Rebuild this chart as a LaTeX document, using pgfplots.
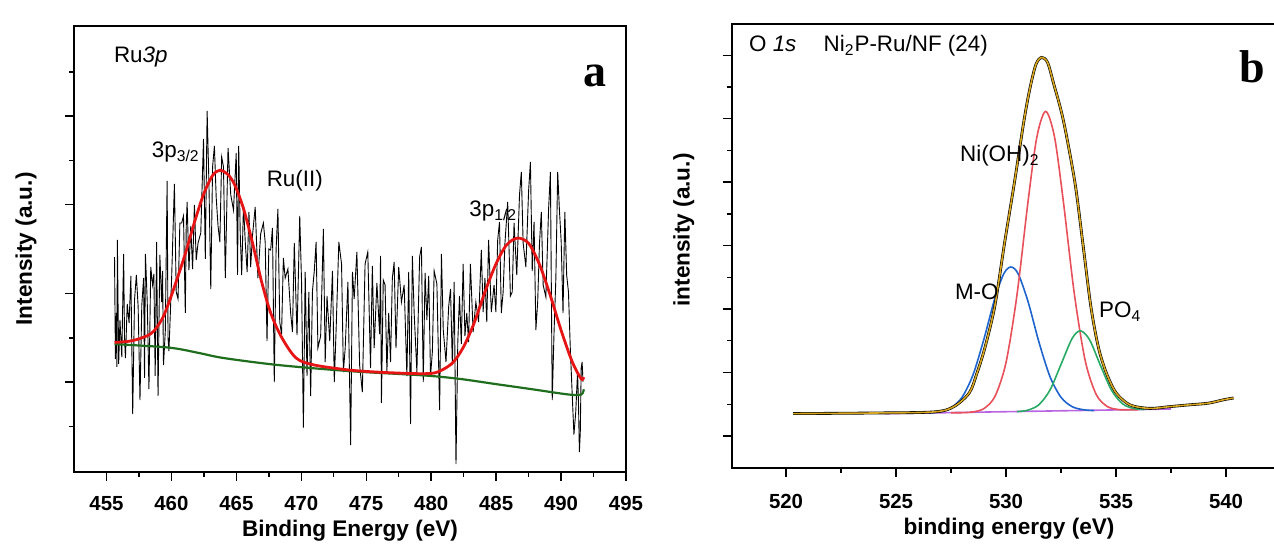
\documentclass[border=0pt]{standalone}
\usepackage{pgfplots}
\pgfplotsset{compat=1.18}
\usepackage{fontspec}
\setmainfont{Liberation Sans}
\newfontfamily\timesfont{Liberation Serif}
\definecolor{fitred}{RGB}{230,20,20}
\definecolor{bgreen}{RGB}{30,110,30}
\definecolor{envgold}{RGB}{215,165,30}
\definecolor{cred}{RGB}{232,80,90}
\definecolor{cblue}{RGB}{30,100,205}
\definecolor{cgreen}{RGB}{40,170,100}
\definecolor{cpurple}{RGB}{185,100,225}
\pgfplotsset{
  common/.style={
    scale only axis, anchor=south west,
    tick align=outside, tick pos=left,
    axis line style={line width=0.8pt},
    every tick/.style={black, line width=0.7pt},
    major tick length=4.5pt, minor tick length=2.3pt,
    /pgf/number format/assume math mode=true,
    tick label style={font=\fontsize{10.2}{12}\selectfont\bfseries},
    label style={font=\fontsize{11.3}{13}\selectfont\bfseries},
    yticklabels={},
    clip=false,
  },
}
\tikzset{ann/.style={anchor=base west, font=\fontsize{11.2}{13}\selectfont}}
\begin{document}
\begin{tikzpicture}
\useasboundingbox (0,0) rectangle (637pt,272.5pt);
% ---------------- panel a ----------------
\begin{axis}[common,
  at={(37pt,36.5pt)}, width=276pt, height=223pt,
  xmin=452.5, xmax=495, ymin=0, ymax=446,
  xtick={455,460,...,495}, minor xtick={457.5,462.5,...,492.5},
  ytick={90,178.7,267.3,356}, minor ytick={45.3,134,222.7,311.3,400},
  xticklabel style={anchor=base, yshift=-15pt},
  xlabel={Binding Energy (eV)},
  xlabel style={at={(axis description cs:0.5,0)}, anchor=base, yshift=-32.5pt},
  ylabel={Intensity (a.u.)},
  ylabel style={at={(axis description cs:-0.0761,0.5)}, anchor=base},
]
\addplot[black, line width=0.45pt] coordinates {
(455.62,214.8)(455.69,113)(455.76,159)(455.80,105)(455.84,232)(455.94,108)(456.04,152)(456.18,115)
(456.32,218)(456.39,134)(456.46,114)(456.60,168)(456.74,149)(456.88,196)(457.02,58)(457.16,172)
(457.30,197)(457.44,165)(457.58,72)(457.72,167)(457.86,194)(457.93,94)(458.00,218)(458.14,170)
(458.27,83)(458.41,205)(458.55,187)(458.65,198)(458.75,96)(458.86,230)(458.97,76)(459.11,217)
(459.25,170)(459.32,201)(459.39,107)(459.53,141)(459.67,291)(459.74,134)(459.81,121)(460.02,195)
(460.23,288)(460.37,180)(460.51,173)(460.65,249)(460.79,249)(460.93,256)(461.07,159)(461.14,245)
(461.21,270)(461.35,202)(461.49,246)(461.63,203)(461.77,267)(461.91,212)(462.05,229)(462.26,239)
(462.47,333)(462.61,213)(462.75,361)(462.89,288)(463.03,183)(463.17,305)(463.31,326)(463.45,274)
(463.59,246)(463.73,230)(463.87,315)(464.01,305)(464.15,194)(464.36,324)(464.57,277)(464.78,262)
(464.99,319)(465.09,197)(465.18,326)(465.30,238)(465.41,197)(465.55,267)(465.69,229)(465.83,200)
(465.97,260)(466.10,205)(466.24,236)(466.45,265)(466.66,194)(466.87,238)(467.08,249)(467.22,230)
(467.36,131)(467.50,223)(467.64,222)(467.78,244)(467.92,90)(468.06,223)(468.20,263)(468.34,150)
(468.48,138)(468.62,214)(468.76,194)(468.97,203)(469.18,159)(469.32,140)(469.46,229)(469.67,137)
(469.88,256)(470.02,190)(470.16,44.5)(470.30,200)(470.44,96)(470.58,180)(470.72,76)(470.86,181)
(471.00,201)(471.14,230)(471.28,124)(471.49,136)(471.70,243)(471.84,110)(471.98,176)(472.19,131)
(472.40,201)(472.54,90)(472.68,142)(472.89,230)(473.10,208)(473.24,100)(473.38,124)(473.59,190)
(473.80,27)(473.94,200)(474.07,173)(474.28,220)(474.49,107)(474.70,80)(474.91,208)(475.12,220)
(475.33,104)(475.47,206)(475.61,124)(475.82,189)(476.03,138)(476.10,216)(476.17,69)(476.31,192)
(476.45,187)(476.59,100)(476.73,159)(476.87,110)(477.01,194)(477.15,210)(477.29,124)(477.50,205)
(477.71,170)(477.92,187)(478.13,96)(478.27,200)(478.41,48)(478.55,216)(478.69,159)(478.90,100)
(479.11,215)(479.25,225)(479.39,90)(479.53,199)(479.67,152)(479.81,196)(479.95,96)(480.09,120)
(480.23,201)(480.44,188)(480.65,62)(480.79,218)(480.93,142)(481.14,110)(481.35,166)(481.49,183)
(481.63,107)(481.77,190)(481.91,8)(482.05,130)(482.18,176)(482.32,128)(482.46,208)(482.60,136)
(482.74,159)(482.88,130)(483.02,208)(483.23,140)(483.44,170)(483.65,150)(483.86,222)(484.00,160)
(484.14,194)(484.28,150)(484.42,232)(484.63,160)(484.84,187)(484.98,160)(485.12,232)(485.26,250)
(485.40,159)(485.54,180)(485.68,229)(485.89,270)(486.10,176)(486.24,180)(486.38,249)(486.59,197)
(486.80,277)(486.94,300)(487.08,229)(487.29,205)(487.50,281)(487.64,310)(487.78,201)(487.92,250)
(488.06,142)(488.20,170)(488.34,229)(488.48,260)(488.62,187)(488.83,175)(489.04,263)(489.18,300)
(489.32,72)(489.46,140)(489.60,194)(489.74,300)(489.87,263)(490.01,230)(490.15,159)(490.29,260)
(490.43,197)(490.57,180)(490.71,124)(490.85,80)(490.99,37.5)(491.13,60)(491.27,100)(491.34,70)
(491.41,20)(491.48,40)(491.55,104)(491.62,110)(491.69,90)
};
\addplot[bgreen, line width=1.1pt, smooth] coordinates {
(455.62,127.9)(459.81,124.4)(462.05,119.2)(464.0,114)(468.2,107)(473.8,100.8)(479.4,96.6)
(482.2,93.1)(484.98,87.9)(487.8,82.7)(490.57,77.5)(491.55,77.5)(491.75,82.7)
};
\addplot[fitred, line width=1.4pt, smooth] coordinates {
(455.62,129.6)(457.02,131.4)(458.42,138.3)(459.25,152.2)(459.81,169.6)(460.37,190.5)(461.07,218.3)
(461.77,249.5)(462.47,277.4)(463.17,296.5)(463.72,301.7)(464.29,298.2)(464.85,287.8)(465.55,263.4)
(466.25,228.7)(466.94,190.5)(467.64,159.2)(468.48,134.8)(469.6,114)(471.0,107)(473.8,101.8)
(476.6,99.4)(479.4,98.3)(480.5,100)(481.62,108.8)(482.46,124.4)(483.3,148.7)(484.14,180)
(484.98,207.8)(485.8,227)(486.65,233.9)(487.5,228.7)(488.33,207.8)(489.17,176.6)(490.0,141.8)
(490.85,110.5)(491.55,93.1)(491.75,94.9)
};
\node[ann] at (axis cs:455.04,409) {Ru\textit{3p}};
\node[ann] at (axis cs:457.96,314) {3p\textsubscript{3/2}};
\node[ann] at (axis cs:466.8,285) {Ru(II)};
\node[ann] at (axis cs:482.4,255) {3p\textsubscript{1/2}};
\node[anchor=base, font=\timesfont\bfseries\fontsize{23}{26}\selectfont] at (axis cs:492.58,385) {a};
\end{axis}
% ---------------- panel b ----------------
\begin{axis}[common,
  at={(365.85pt,38.5pt)}, width=272.15pt, height=222pt,
  xmin=517.53, xmax=542.27, ymin=0, ymax=444,
  xtick={520,525,...,540}, minor xtick={517.5,522.5,...,542.5},
  ytick={32,95.45,158.9,222.35,285.8,349.25,412.7},
  minor ytick={63.7,127.2,190.6,254.1,317.5,381},
  xticklabel style={anchor=base, yshift=-16pt},
  xlabel={binding energy (eV)},
  xlabel style={at={(axis description cs:0.5095,0)}, anchor=base, yshift=-33.5pt},
  ylabel={intensity (a.u.)},
  ylabel style={at={(axis description cs:-0.0774,0.536)}, anchor=base},
]
\addplot[cpurple, line width=0.8pt] coordinates {(524.5,54.3)(537.5,59.0)};
\addplot[cblue, line width=0.8pt, smooth] coordinates {
(526.5,55.0)(527.0,56.2)(527.5,60.1)(528.0,70.7)(528.5,93.3)(529.0,129.4)(529.5,170.4)(529.9,194.4)
(530.22,201)(530.55,194.2)(531.0,166.3)(531.5,125.5)(532.0,91.2)(532.5,70.6)(533.0,61.4)(533.5,58.3)(534.0,57.4)
};
\addplot[cred, line width=0.8pt, smooth] coordinates {
(527.5,55.2)(528.0,55.3)(528.5,56.1)(529.0,59.5)(529.5,71.8)(530.0,105.7)(530.5,173.7)(531.0,266.7)
(531.4,331)(531.8,356.6)(532.2,331.3)(532.6,267.3)(533.1,174.7)(533.6,107.1)(534.1,73.4)(534.6,61.5)
(535.1,58.5)(535.6,58.1)(536.0,58.2)
};
\addplot[cgreen, line width=0.8pt, smooth] coordinates {
(530.5,56.4)(531.0,57.9)(531.5,63.4)(532.0,78.1)(532.5,103.7)(533.0,129.4)(533.38,137.2)(533.8,128.1)
(534.3,102)(534.8,77.5)(535.3,64.1)(535.8,59.5)(536.3,58.5)
};
\addplot[black, line width=1.4pt, smooth] coordinates {
(520.32,54.4)(524.0,55.0)(526.73,56.1)(527.62,61.3)(528.33,75.2)(528.68,95.0)(529.04,120.4)(529.49,162.1)
(529.93,224.7)(530.38,285.5)(530.82,348.1)(531.09,380.1)(531.36,403.7)(531.62,410.6)(531.89,405.4)
(532.16,384.6)(532.60,348.1)(533.13,285.5)(533.49,224.7)(533.85,162.1)(534.20,120.4)(534.56,95.0)
(535.00,75.2)(535.63,63.1)(536.52,59.6)(537.41,61.3)(538.30,63.1)(539.19,64.8)(539.90,68.3)(540.34,70.0)
};
\addplot[envgold, line width=0.8pt, smooth] coordinates {
(520.32,54.4)(524.0,55.0)(526.73,56.1)(527.62,61.3)(528.33,75.2)(528.68,95.0)(529.04,120.4)(529.49,162.1)
(529.93,224.7)(530.38,285.5)(530.82,348.1)(531.09,380.1)(531.36,403.7)(531.62,410.6)(531.89,405.4)
(532.16,384.6)(532.60,348.1)(533.13,285.5)(533.49,224.7)(533.85,162.1)(534.20,120.4)(534.56,95.0)
(535.00,75.2)(535.63,63.1)(536.52,59.6)(537.41,61.3)(538.30,63.1)(539.19,64.8)(539.90,68.3)(540.34,70.0)
};
\node[ann] at (axis cs:518.0,416) {O \textit{1s}};
\node[ann] at (axis cs:521.39,416) {Ni\textsubscript{2}P-Ru/NF (24)};
\node[ann] at (axis cs:527.59,306) {Ni(OH)\textsubscript{2}};
\node[ann] at (axis cs:527.36,168) {M-O};
\node[ann] at (axis cs:533.91,150) {PO\textsubscript{4}};
\node[anchor=base, font=\timesfont\bfseries\fontsize{23}{26}\selectfont] at (axis cs:541.18,385) {b};
\end{axis}
\end{tikzpicture}
\end{document}
